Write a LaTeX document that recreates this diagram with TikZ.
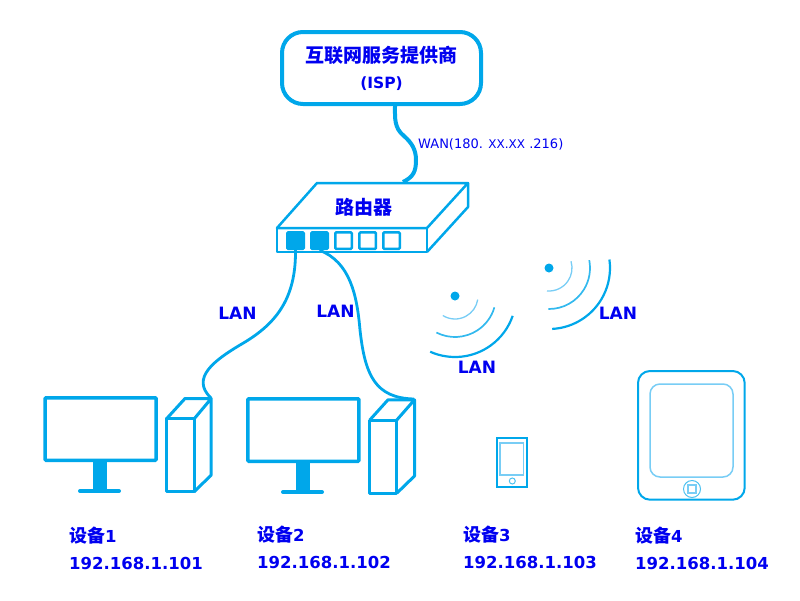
\documentclass[tikz,border=0pt]{standalone}
\usepackage{fontspec}
\setmainfont{DejaVu Sans}
\newfontfamily\cjk{Noto Sans CJK SC}
\definecolor{netblue}{RGB}{0,167,234}
\definecolor{netlight}{RGB}{120,205,245}
\definecolor{labelblue}{RGB}{0,0,240}
\tikzset{
  cable/.style={netblue,line width=2.8pt},
  casing/.style={draw=netblue,line width=2.5pt,line join=round},
  screen/.style={draw=netblue,line width=3.5pt,rounded corners=1pt,minimum width=111pt,minimum height=62.5pt,inner sep=0pt},
  porton/.style={draw=netblue,fill=netblue,line width=2.5pt,rounded corners=1pt,minimum size=16.5pt,inner sep=0pt},
  portoff/.style={draw=netblue,fill=white,line width=2.5pt,rounded corners=1pt,minimum size=16.5pt,inner sep=0pt},
  dotsrc/.style={circle,fill=netblue,minimum size=9pt,inner sep=0pt},
  lanlabel/.style={text=labelblue,font=\fontsize{17}{20}\selectfont\bfseries},
  devlabel/.style={text=labelblue,anchor=west,align=left,inner sep=0pt,font=\fontsize{16.5}{27}\selectfont\bfseries}
}
\begin{document}
\begin{tikzpicture}[x=1pt,y=-1pt]
	\useasboundingbox (0,0) rectangle (800,600);
	% isp and router
	\node[draw=netblue,line width=4pt,rounded corners=21pt,minimum width=199pt,minimum height=72pt,
	  align=center,text=labelblue,font=\fontsize{15.5}{26}\selectfont\bfseries] (isp) at (381.5,68)
	  {{\fontsize{19}{26}\selectfont\cjk 互联网服务提供商}\\(ISP)};
	\draw[casing,fill=white] (277,228) -- (317,183) -- (468,183) -- (427,228) -- cycle;
	\draw[casing] (468,183) -- (468,207) -- (427,252);
	\node[casing,minimum width=150pt,minimum height=24pt,inner sep=0pt] (router) at (352,240) {};
	\node[text=labelblue,font=\fontsize{19}{20}\selectfont\bfseries] (routername) at (364,207) {\cjk 路由器};
	\coordinate (wanin) at (403,182);
	\node[porton] (port1) at (295.5,240.7) {};
	\node[porton] (port2) at (319.5,240.7) {};
	\node[portoff] (port3) at (343.5,240.7) {};
	\node[portoff] (port4) at (367.7,240.7) {};
	\node[portoff] (port5) at (391.5,240.7) {};
	\draw[netblue,line width=4pt] (isp.south) ++(13.5,0) coordinate (wanout)
	  .. controls (395,118) and (394,128) .. (404,136)
	  .. controls (412,143) and (416,150) .. (416,160)
	  .. controls (416,172) and (413,177) .. (wanin);
	\node[text=labelblue,anchor=west,inner sep=0pt,font=\fontsize{13}{14}\selectfont] (wan) at (418,144.5)
	  {WAN(180. {\fontsize{12}{14}\selectfont XX.XX} .216)};
	% computer 1
	\node[screen] (screen1) at (100.7,429) {};
	\fill[netblue] (93,461) rectangle (107,490);
	\draw[netblue,line width=4pt,line cap=round] (80,491) -- (119,491);
	\draw[casing,line width=3pt] (166.5,418.8) rectangle (194.2,491.8);
	\draw[casing,line width=3pt] (166.5,418.8) -- (185,398.5) -- (211.2,398.5) -- (194.2,418.8)
	  (211.2,398.5) -- (211.2,475) -- (194.2,491.8);
	\coordinate (tower1) at (211,398);
	% computer 2
	\node[screen] (screen2) at (303.3,430) {};
	\fill[netblue] (296,462) rectangle (310,491);
	\draw[netblue,line width=4pt,line cap=round] (283,492) -- (322,492);
	\draw[casing,line width=3pt] (369.8,420) rectangle (396.8,493.2);
	\draw[casing,line width=3pt] (369.8,420) -- (388,399.8) -- (414.5,399.8) -- (396.8,420)
	  (414.5,399.8) -- (414.5,476) -- (396.8,493.2);
	\coordinate (tower2) at (414,399);
	% lan cables
	\draw[cable] (port1.south) .. controls (296,300) and (275,325) ..
	  (240,345) .. controls (215,360) and (190,378) .. (tower1);
	\draw[cable] (port2.south) .. controls (350,262) and (357,295) ..
	  (360,330) .. controls (365,375) and (375,398) .. (tower2);
	\node[lanlabel] (lan1) at (237.5,313) {LAN};
	\node[lanlabel] (lan2) at (335.5,311) {LAN};
	% wifi waves
	\node[dotsrc] (wave1) at (455,296) {};
	\draw[netlight,line width=1.3pt] (wave1.center) ++(122:23) arc[start angle=122,end angle=9,radius=23];
	\draw[netblue!80!white,line width=1.7pt] (wave1.center) ++(117:41) arc[start angle=117,end angle=16,radius=41];
	\draw[netblue,line width=2.2pt] (wave1.center) ++(114:61) arc[start angle=114,end angle=19,radius=61];
	\node[dotsrc] (wave2) at (549,268) {};
	\draw[netlight,line width=1.3pt] (wave2.center) ++(95:23) arc[start angle=95,end angle=-17,radius=23];
	\draw[netblue!80!white,line width=1.7pt] (wave2.center) ++(91:41) arc[start angle=91,end angle=-11,radius=41];
	\draw[netblue,line width=2.2pt] (wave2.center) ++(87:61) arc[start angle=87,end angle=-8,radius=61];
	\node[lanlabel] (lan3) at (477,367) {LAN};
	\node[lanlabel] (lan4) at (618,313) {LAN};
	% phone
	\draw[netblue,line width=2pt] (496.5,438) rectangle (526.5,486.7);
	\draw[netlight,line width=1.5pt] (500,443) rectangle (523.3,475);
	\draw[netblue!70!white,line width=1pt] (512.3,481) circle[radius=3];
	% tablet
	\draw[netblue,line width=2pt,rounded corners=12pt] (638,371) rectangle (744.7,499.7);
	\draw[netlight,line width=1.5pt,rounded corners=10pt] (650,384) rectangle (733,477);
	\draw[netblue!70!white,line width=1pt] (692,489) circle[radius=8.5];
	\draw[netlight,line width=1.5pt] (688,485) rectangle (696,493);
	% labels
	\node[devlabel] (dev1) at (69,548) {{\fontsize{18}{27}\selectfont\cjk 设备}1\\192.168.1.101};
	\node[devlabel] (dev2) at (257,547) {{\fontsize{18}{27}\selectfont\cjk 设备}2\\192.168.1.102};
	\node[devlabel] (dev3) at (463,547) {{\fontsize{18}{27}\selectfont\cjk 设备}3\\192.168.1.103};
	\node[devlabel] (dev4) at (635,548) {{\fontsize{18}{27}\selectfont\cjk 设备}4\\192.168.1.104};
\end{tikzpicture}
\end{document}
